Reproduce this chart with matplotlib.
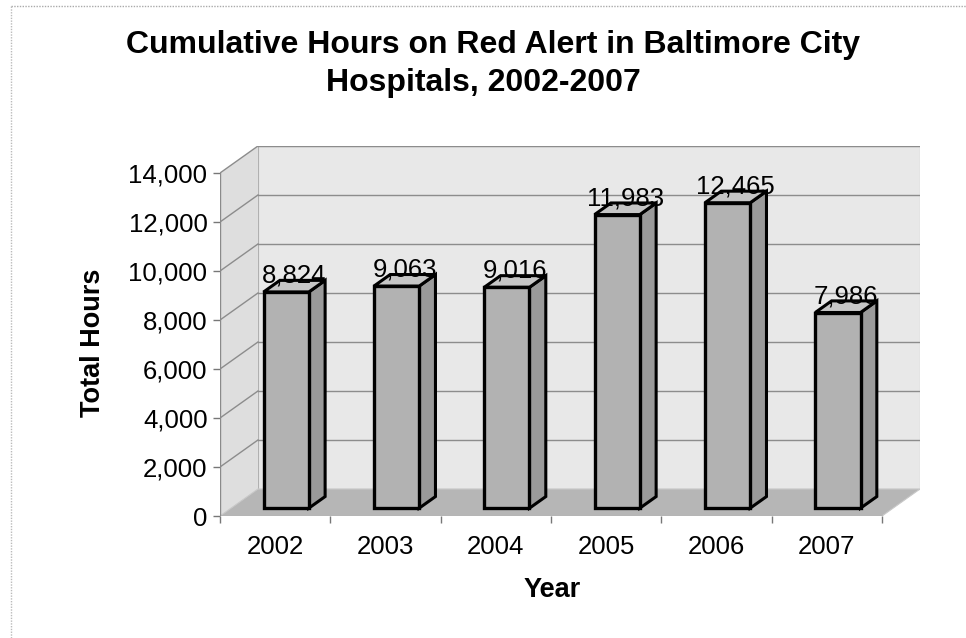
import matplotlib
matplotlib.use("Agg")
import matplotlib.pyplot as plt
from matplotlib.patches import Polygon

plt.rcParams['font.family'] = ['Liberation Sans', 'DejaVu Sans']

# ---- data ----
years = ["2002", "2003", "2004", "2005", "2006", "2007"]
hours = [8824, 9063, 9016, 11983, 12465, 7986]
value_labels = ["8,824", "9,063", "9,016", "11,983", "12,465", "7,986"]
yticks = [0, 2000, 4000, 6000, 8000, 10000, 12000, 14000]
ytick_labels = ["0", "2,000", "4,000", "6,000", "8,000", "10,000", "12,000", "14,000"]

title_lines = ["Cumulative Hours on Red Alert in Baltimore City", "Hospitals, 2002-2007"]

# ---- geometry (oblique 3D look) ----
W, H = 966, 638
fig = plt.figure(figsize=(W / 100, H / 100), dpi=100)

n = len(years)
ymax = 14000
DX = 0.344      # depth offset in category units
DY = 1102       # depth offset in value units
f0, f1 = 0.29, 0.72   # bar depth range (fraction of depth)
bw = 0.41             # bar width

x0, x1 = -0.5, n - 0.5
# axes pixel box
px_left, px_right = 220, 920
px_bottom, px_top = 516, 146
ax = fig.add_axes([px_left / W, 1 - px_bottom / H,
                   (px_right - px_left) / W, (px_bottom - px_top) / H])
ax.set_xlim(x0, x1 + DX)
ax.set_ylim(0, ymax + DY)
for s in ax.spines.values():
    s.set_visible(False)
ax.patch.set_alpha(0)

wall_c = "#e8e8e8"
side_c = "#dedede"
floor_c = "#b6b6b6"
grid_c = "#8c8c8c"

# back wall
ax.add_patch(Polygon([(x0 + DX, DY), (x1 + DX, DY), (x1 + DX, ymax + DY), (x0 + DX, ymax + DY)],
                     closed=True, facecolor=wall_c, edgecolor="#b0b0b0", lw=0.8, zorder=1))
# side wall
ax.add_patch(Polygon([(x0, 0), (x0 + DX, DY), (x0 + DX, ymax + DY), (x0, ymax)],
                     closed=True, facecolor=side_c, edgecolor="none", zorder=1))
# floor
ax.add_patch(Polygon([(x0, 0), (x1, 0), (x1 + DX, DY), (x0 + DX, DY)],
                     closed=True, facecolor=floor_c, edgecolor="#c8c8c8", lw=0.8, zorder=1))

# gridlines
for v in yticks[1:]:
    ax.plot([x0 + DX, x1 + DX], [v + DY, v + DY], color=grid_c, lw=1.0, zorder=2)
    ax.plot([x0, x0 + DX], [v, v + DY], color=grid_c, lw=1.0, zorder=2)

# axis lines
ax.plot([x0, x0], [0, ymax], color="#8a8a8a", lw=1.0, zorder=3)
ax.plot([x0, x1], [0, 0], color="#8a8a8a", lw=1.0, zorder=3)

# bars
front_c = "#b2b2b2"
sidebar_c = "#9a9a9a"
top_c = "#c6c6c6"
for i, v in enumerate(hours):
    l = i - bw / 2 + f0 * DX
    r = i + bw / 2 + f0 * DX
    b0 = f0 * DY
    ddx = (f1 - f0) * DX
    ddy = (f1 - f0) * DY
    ax.add_patch(Polygon([(r, b0), (r + ddx, b0 + ddy), (r + ddx, v + b0 + ddy), (r, v + b0)],
                         closed=True, facecolor=sidebar_c, edgecolor="black", lw=2.2,
                         joinstyle="miter", zorder=5))
    ax.add_patch(Polygon([(l, v + b0), (r, v + b0), (r + ddx, v + b0 + ddy), (l + ddx, v + b0 + ddy)],
                         closed=True, facecolor=top_c, edgecolor="black", lw=2.2,
                         joinstyle="miter", zorder=5))
    ax.add_patch(Polygon([(l, b0), (r, b0), (r, v + b0), (l, v + b0)],
                         closed=True, facecolor=front_c, edgecolor="black", lw=2.4,
                         joinstyle="miter", zorder=6))
    ax.text(i + (f0 + f1) / 2 * DX, v + (f0 + f1) / 2 * DY - 60, value_labels[i],
            ha="center", va="bottom", fontsize=18.5, color="black", zorder=10)

# ticks
ax.set_yticks(yticks)
ax.set_yticklabels(ytick_labels, fontsize=18.5)
ax.tick_params(axis="y", length=5, width=1, color="#777777", pad=4)
ax.set_xticks([x0 + k for k in range(n + 1)])
ax.set_xticklabels([""] * (n + 1))
ax.tick_params(axis="x", which="major", length=5, width=1, color="#777777", direction="out")
ax.set_xticks(range(n), minor=True)
ax.set_xticklabels(years, minor=True, fontsize=18.5)
ax.tick_params(axis="x", which="minor", length=0, pad=14)

# axis titles
fig.text(552 / W, 1 - 590 / H, "Year", ha="center", va="center", fontsize=19.5, fontweight="bold")
fig.text(93 / W, 1 - 343 / H, "Total Hours", ha="center", va="center", rotation=90,
         fontsize=19.5, fontweight="bold")

# title
fig.text(493 / W, 1 - 45 / H, title_lines[0], ha="center", va="center", fontsize=23, fontweight="bold")
fig.text(483 / W, 1 - 83 / H, title_lines[1], ha="center", va="center", fontsize=23, fontweight="bold")

# chart area border (top & left, dotted)
fig.add_artist(plt.Line2D([11 / W, 1], [1 - 6 / H, 1 - 6 / H], color="#aaaaaa", lw=1, ls=(0, (1, 1))))
fig.add_artist(plt.Line2D([11 / W, 11 / W], [0, 1 - 6 / H], color="#bbbbbb", lw=1, ls=(0, (1, 1))))

fig.savefig("out.png", dpi=100)
